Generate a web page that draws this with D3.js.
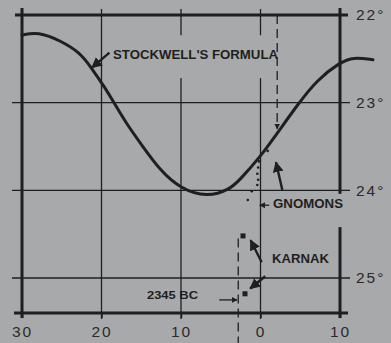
<!DOCTYPE html>
<html>
<head>
<meta charset="utf-8">
<script src="https://cdn.jsdelivr.net/npm/d3@7"></script>
<style>
  html, body { margin: 0; padding: 0; background: #a8a9ab; }
  svg { display: block; }
</style>
</head>
<body>
<div id="chart"></div>
<script>
// Chart values (x in centuries, y in degrees of obliquity)
var stockwellCenturies = [30, 28, 25.2, 22.7, 21.45, 19.55, 18.55, 16.8, 14.8, 12.65, 10.1, 6.7, 3.85, 2.6, 0.05, -2.1, -4.6, -7.1, -10, -11.65, -14.15];
var stockwellObliquity = [22.23, 22.19, 22.29, 22.43, 22.58, 22.83, 22.98, 23.25, 23.5, 23.77, 23.98, 24.08, 23.99, 23.88, 23.62, 23.35, 23.03, 22.74, 22.54, 22.48, 22.51];

var gnomonCenturies = [-0.9, 0.2, 0.3, 0.4, 0.3, 0.4, 1.1, 1.6];
var gnomonObliquity = [23.55, 23.67, 23.74, 23.81, 23.88, 23.94, 24.01, 24.11];

var karnakCenturies = [2.2, 1.95];
var karnakObliquity = [24.52, 25.18];

var xTicks = [30, 20, 10, 0, -10];
var yTicks = [22, 23, 24, 25];

var karnakDate = 2.8;     // the 2345 BC marker
var gnomonMarker = -2.1;  // dashed line down to the formula curve

var width = 391, height = 343;
var ink = "#1f1f20";

var svg = d3.select("#chart")
    .append("svg")
    .attr("width", width)
    .attr("height", height);

// scales: x runs backwards (30 on the left), y grows downward in degrees
var x = d3.scaleLinear().domain([30, -10]).range([22, 340]);
var y = d3.scaleLinear().domain([22, 25]).range([15, 278]);
var yBottom = 25.4;

// arrow head marker
var defs = svg.append("defs");
defs.append("marker")
    .attr("id", "head")
    .attr("viewBox", "0 0 10 10")
    .attr("refX", 9).attr("refY", 5)
    .attr("markerWidth", 4.5).attr("markerHeight", 4.5)
    .attr("orient", "auto")
  .append("path")
    .attr("d", "M0,0 L10,5 L0,10 z")
    .attr("fill", ink);

// thin grid lines
var grid = svg.append("g").attr("stroke", ink).attr("stroke-width", 1.3);

grid.selectAll(".vgrid")
    .data(xTicks.slice(1, 4))
    .enter().append("line")
    .attr("x1", d => x(d)).attr("x2", d => x(d))
    .attr("y1", y(22) - 6).attr("y2", y(yBottom) + 6);

grid.selectAll(".hgrid")
    .data(yTicks.slice(1))
    .enter().append("line")
    .attr("x1", x(30) - 10).attr("x2", x(-10) + 10)
    .attr("y1", d => y(d)).attr("y2", d => y(d));

// heavy frame
var frame = svg.append("g").attr("stroke", ink).attr("stroke-width", 3);
frame.append("line")
    .attr("x1", x(30)).attr("x2", x(30))
    .attr("y1", y(22) - 7).attr("y2", y(yBottom) + 5);
frame.append("line")
    .attr("x1", x(-10)).attr("x2", x(-10))
    .attr("y1", y(22) - 7).attr("y2", y(yBottom) + 5);
frame.append("line")
    .attr("x1", x(30) - 7).attr("x2", x(-10) + 8)
    .attr("y1", y(22)).attr("y2", y(22));
frame.append("line")
    .attr("x1", x(30) - 8).attr("x2", x(-10) + 8)
    .attr("y1", y(yBottom)).attr("y2", y(yBottom));

// knock-outs where the printed grid breaks around the labels
svg.append("rect")
    .attr("x", 160).attr("y", y(22.23))
    .attr("width", 106).attr("height", y(22.72) - y(22.23))
    .attr("fill", "#a8a9ab");
svg.append("rect")
    .attr("x", 268).attr("y", y(24.04))
    .attr("width", 80).attr("height", y(24.42) - y(24.04))
    .attr("fill", "#a8a9ab");

// dashed marker lines
svg.append("line")
    .attr("x1", x(gnomonMarker)).attr("x2", x(gnomonMarker))
    .attr("y1", y(22)).attr("y2", y(23.3))
    .attr("stroke", ink).attr("stroke-width", 1.3)
    .attr("stroke-dasharray", "9,5")
    .attr("marker-end", "url(#head)");
svg.append("line")
    .attr("x1", x(karnakDate)).attr("x2", x(karnakDate))
    .attr("y1", y(24.55)).attr("y2", height)
    .attr("stroke", ink).attr("stroke-width", 1.3)
    .attr("stroke-dasharray", "9,5");

// Stockwell's formula curve
var line = d3.line()
    .x(d => x(d[0]))
    .y(d => y(d[1]))
    .curve(d3.curveBasis);

svg.append("path")
    .datum(d3.zip(stockwellCenturies, stockwellObliquity))
    .attr("d", line)
    .attr("fill", "none")
    .attr("stroke", ink)
    .attr("stroke-width", 3)
    .attr("stroke-linecap", "round");

// gnomon observations (small dots)
svg.selectAll(".gnomon")
    .data(d3.zip(gnomonCenturies, gnomonObliquity))
    .enter().append("circle")
    .attr("cx", d => x(d[0]))
    .attr("cy", d => y(d[1]))
    .attr("r", 1.3)
    .attr("fill", ink);

// Karnak observations (small squares)
svg.selectAll(".karnak")
    .data(d3.zip(karnakCenturies, karnakObliquity))
    .enter().append("rect")
    .attr("x", d => x(d[0]) - 2.5)
    .attr("y", d => y(d[1]) - 2.5)
    .attr("width", 5).attr("height", 5)
    .attr("fill", ink);

// annotation arrows
function arrow(x1, y1, x2, y2, w) {
    svg.append("line")
        .attr("x1", x(x1)).attr("y1", y(y1))
        .attr("x2", x(x2)).attr("y2", y(y2))
        .attr("stroke", ink).attr("stroke-width", w || 2.4)
        .attr("marker-end", "url(#head)");
}
arrow(19.0, 22.43, 21.2, 22.6);     // Stockwell's formula
arrow(-2.75, 24.0, -1.95, 23.68);   // gnomons
arrow(-1.1, 24.17, 0.1, 24.17, 1.3);
arrow(-0.15, 24.82, 1.25, 24.57);   // Karnak, upper point
arrow(-0.6, 24.98, 1.3, 25.12);     // Karnak, lower point
arrow(5.2, 25.25, karnakDate + 0.15, 25.25, 1.3);  // 2345 BC

// annotation labels
var labels = svg.append("g")
    .attr("font-family", "'Liberation Sans', Arial, sans-serif")
    .attr("font-weight", "bold")
    .attr("font-size", 12.5)
    .attr("fill", ink);

labels.append("text").attr("x", 113).attr("y", 59)
    .attr("textLength", 165).attr("lengthAdjust", "spacingAndGlyphs")
    .text("STOCKWELL'S FORMULA");
labels.append("text").attr("x", 273).attr("y", 208)
    .attr("textLength", 70).attr("lengthAdjust", "spacingAndGlyphs")
    .text("GNOMONS");
labels.append("text").attr("x", 272).attr("y", 263)
    .attr("textLength", 57).attr("lengthAdjust", "spacingAndGlyphs")
    .text("KARNAK");
labels.append("text").attr("x", 147).attr("y", 299)
    .attr("font-size", 11.5)
    .attr("textLength", 51).attr("lengthAdjust", "spacingAndGlyphs")
    .text("2345 BC");

// axes (labels only, ticks are the grid)
var bottomAxis = d3.axisBottom(x)
    .tickValues(xTicks)
    .tickSize(5)
    .tickFormat(d => Math.abs(d));

var xAxis = svg.append("g")
    .attr("transform", `translate(0, ${y(yBottom)})`)
    .call(bottomAxis);

var rightAxis = d3.axisRight(y)
    .tickValues(yTicks)
    .tickSize(0)
    .tickPadding(16)
    .tickFormat(d => d + "°");

var yAxis = svg.append("g")
    .attr("transform", `translate(${x(-10)}, 0)`)
    .call(rightAxis);

[xAxis, yAxis].forEach(function(ax) {
    ax.select(".domain").remove();
    ax.selectAll("line").attr("stroke", ink).attr("stroke-width", 1.5);
    ax.selectAll("text")
        .attr("fill", "#2a2a2b")
        .style("font-family", "'Liberation Sans', Arial, sans-serif")
        .style("font-size", "15.5px")
        .style("letter-spacing", "2px");
});
xAxis.selectAll("text").attr("dy", "1.05em");
</script>
</body>
</html>
